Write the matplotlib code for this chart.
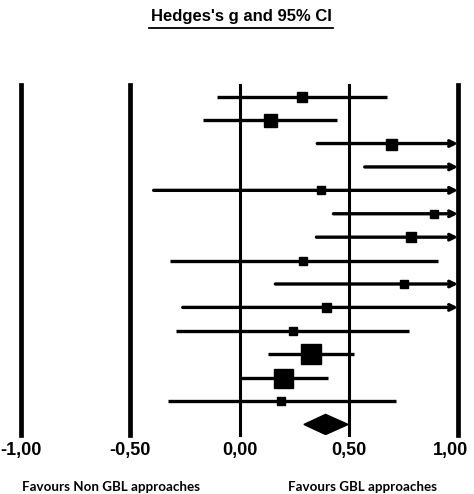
import matplotlib
matplotlib.use("Agg")
import matplotlib.pyplot as plt
from matplotlib.lines import Line2D
from matplotlib.patches import Polygon

# ---- data ----
g_values = [0.284, 0.139, 0.693, 1.10, 0.375, 0.888, 0.784, 0.292, 0.751, 0.394, 0.243, 0.329, 0.200, 0.191]
ci_lower = [-0.105, -0.167, 0.356, 0.573, -0.393, 0.430, 0.352, -0.320, 0.164, -0.260, -0.292, 0.132, 0.009, -0.327]
ci_upper = [0.677, 0.448, 1.30, 1.60, 1.20, 1.40, 1.25, 0.907, 1.35, 1.20, 0.778, 0.524, 0.405, 0.716]
weights = [10, 13, 11, 9, 8, 8, 10, 8, 8, 9, 8, 20, 19, 8]
summary_g = 0.394
summary_lower = 0.295
summary_upper = 0.497
tick_values = [-1.0, -0.5, 0.0, 0.5, 1.0]
tick_labels = ["-1,00", "-0,50", "0,00", "0,50", "1,00"]
title_text = "Hedges's g and 95% CI"
left_label = "Favours Non GBL approaches"
right_label = "Favours GBL approaches"

W, H = 474, 494
fig = plt.figure(figsize=(W / 100, H / 100), dpi=100)
fig.patch.set_facecolor("white")

# axes placement in pixel coords
x0, x1 = 21, 458
ytop, ybot = 85, 435
ax = fig.add_axes([x0 / W, 1 - ybot / H, (x1 - x0) / W, (ybot - ytop) / H])
ax.set_xlim(-1, 1)
n = len(g_values)
ax.set_ylim(n + 1.45, 0.5)
ax.axis("off")

# vertical reference lines
for v in tick_values:
    lw = 3.4 if v in (-1.0, -0.5, 1.0) else 2.2
    ax.axvline(v, color="black", lw=lw, clip_on=False, zorder=1)

# study rows
for i in range(n):
    y = i + 1
    lo, hi, g = ci_lower[i], ci_upper[i], g_values[i]
    if hi > 1.0:
        ax.annotate("", xy=(1.0, y), xytext=(lo, y),
                    arrowprops=dict(arrowstyle="->", lw=2.4, color="black",
                                    mutation_scale=10, shrinkA=0, shrinkB=0),
                    zorder=2)
    else:
        ax.plot([lo, hi], [y, y], color="black", lw=2.4, solid_capstyle="butt", zorder=2)
    if -1 <= g <= 1:
        ax.plot([g], [y], marker="s", color="black", ms=weights[i] * 0.72,
                mec="black", zorder=3)

# summary diamond
ys = n + 1
h = 0.43
diamond = Polygon([[summary_lower, ys], [summary_g, ys - h], [summary_upper, ys], [summary_g, ys + h]],
                  closed=True, facecolor="black", edgecolor="black", zorder=3)
ax.add_patch(diamond)

# tick labels
def px(xv):
    return (x0 + (xv + 1) / 2 * (x1 - x0)) / W

for v, lab in zip(tick_values, tick_labels):
    if v >= 1.0:
        fig.text(468 / W, 1 - 450 / H, lab, ha="right", va="center",
                 fontsize=13, fontweight="bold", family="Liberation Sans")
    else:
        fig.text(px(v), 1 - 450 / H, lab, ha="center", va="center",
                 fontsize=13, fontweight="bold", family="Liberation Sans")

# bottom labels
fig.text(111 / W, 1 - 487 / H, left_label, ha="center", va="center",
         fontsize=9.6, fontweight="bold", family="Lato")
fig.text(363 / W, 1 - 487 / H, right_label, ha="center", va="center",
         fontsize=9.6, fontweight="bold", family="Lato")

# title with underline
fig.text(241 / W, 1 - 17 / H, title_text, ha="center", va="center",
         fontsize=12, fontweight="bold", family="Liberation Sans")
fig.add_artist(Line2D([149 / W, 333 / W], [1 - 28 / H, 1 - 28 / H], color="black", lw=1.3))

fig.savefig("out.png", dpi=100, facecolor="white")
